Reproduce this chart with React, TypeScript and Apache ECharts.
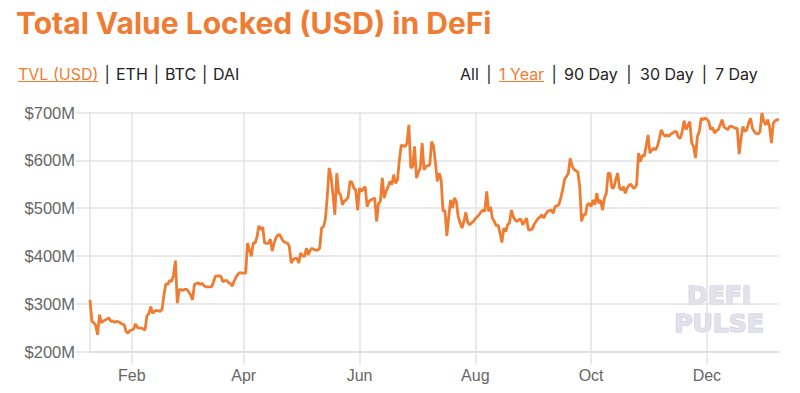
import React, { useEffect, useRef } from "react";
import * as echarts from "echarts";

// Daily TVL in millions of USD, starting 2019-01-10
const startDate = "2019-01-10";
const tvl: number[] = [
  308, 263, 260, 255, 235, 277, 260, 264, 266, 268, 270, 263, 264, 261, 263, 262, 260, 257, 256, 242,
  238, 244, 245, 247, 258, 250, 249, 249, 247, 245, 275, 279, 294, 280, 284, 286, 285, 284, 289, 320,
  342, 340, 349, 346, 360, 390, 301, 330, 329, 328, 330, 330, 325, 318, 308, 340, 342, 344, 340, 343,
  338, 335, 335, 335, 335, 345, 357, 358, 358, 357, 346, 348, 349, 344, 342, 337, 348, 356, 362, 365,
  364, 364, 364, 427, 413, 399, 427, 427, 440, 463, 455, 460, 427, 426, 426, 435, 410, 427, 438, 444,
  444, 436, 430, 428, 427, 420, 385, 392, 395, 395, 385, 406, 400, 399, 416, 402, 412, 416, 413, 412,
  412, 416, 458, 461, 476, 524, 584, 566, 528, 486, 573, 532, 528, 507, 515, 517, 523, 556, 554, 542,
  538, 496, 542, 535, 540, 545, 503, 514, 517, 519, 521, 472, 510, 514, 563, 521, 535, 544, 556, 549,
  570, 552, 559, 601, 632, 630, 629, 636, 674, 584, 587, 629, 563, 575, 584, 636, 580, 587, 589, 590,
  639, 630, 594, 556, 573, 559, 493, 496, 442, 482, 517, 500, 521, 514, 482, 470, 458, 472, 491, 470,
  465, 469, 472, 478, 482, 486, 492, 496, 493, 535, 493, 503, 479, 472, 463, 465, 448, 428, 458, 451,
  465, 469, 496, 482, 475, 472, 476, 477, 465, 472, 479, 454, 455, 456, 466, 472, 478, 481, 486, 479,
  487, 493, 495, 496, 489, 503, 505, 507, 521, 538, 560, 566, 573, 604, 588, 581, 578, 576, 545, 472,
  486, 486, 507, 510, 503, 517, 507, 531, 510, 517, 496, 520, 531, 573, 572, 542, 543, 560, 573, 542,
  538, 545, 531, 542, 548, 550, 543, 542, 549, 615, 597, 611, 608, 630, 653, 615, 622, 625, 622, 630,
  646, 664, 655, 650, 653, 650, 655, 657, 660, 660, 648, 646, 660, 683, 664, 673, 681, 636, 629, 605,
  650, 660, 688, 685, 688, 686, 681, 664, 669, 657, 662, 664, 674, 685, 670, 667, 664, 671, 671, 669,
  667, 667, 613, 646, 671, 660, 664, 678, 688, 667, 660, 656, 655, 660, 699, 681, 674, 685, 671, 636,
  678, 683, 685, 684,
];

const monthNames = ["Jan", "Feb", "Mar", "Apr", "May", "Jun", "Jul", "Aug", "Sep", "Oct", "Nov", "Dec"];
const tickMonths = ["Feb", "Apr", "Jun", "Aug", "Oct", "Dec"];
const yTicks = [200, 300, 400, 500, 600, 700];

const titleText = "Total Value Locked (USD) in DeFi";
const leftLinks = ["TVL (USD)", "ETH", "BTC", "DAI"];
const rightLinks = ["All", "1 Year", "90 Day", "30 Day", "7 Day"];
const watermark = "DEFI\nPULSE";

const ORANGE = "#ee7d33";

function buildDates(): string[] {
  const [y, m, d] = startDate.split("-").map(Number);
  return tvl.map((_, i) => new Date(Date.UTC(y, m - 1, d + i)).toISOString().slice(0, 10));
}

function isTickDate(v: string): boolean {
  const m = Number(v.slice(5, 7));
  return v.slice(8, 10) === "01" && tickMonths.includes(monthNames[m - 1]);
}

function measure(text: string, font: string): number {
  const c = document.createElement("canvas").getContext("2d");
  if (!c) return text.length * 8;
  c.font = font;
  return c.measureText(text).width;
}

export default function App() {
  const ref = useRef<HTMLDivElement>(null);
  useEffect(() => {
    if (!ref.current) return;
    const chart = echarts.init(ref.current, null, { renderer: "svg" });
    const dates = buildDates();

    const linkFont = { fontFamily: "Inter", fontSize: 16, fontWeight: 400 as any };
    const cssFont = "400 16px Inter";
    const leftX = [18, 116, 165, 213];
    const rightX = [460, 499, 564, 640, 715];
    const linkY = 74;

    const graphics: any[] = [
      {
        type: "text",
        left: 16,
        top: 8,
        style: {
          text: titleText,
          fill: ORANGE,
          fontFamily: "Inter",
          fontWeight: 700,
          fontSize: 30,
        },
      },
    ];
    const addRow = (words: string[], xs: number[], active: number) => {
      words.forEach((t, i) => {
        const w = measure(t, cssFont);
        graphics.push({
          type: "text",
          x: xs[i],
          y: linkY,
          style: { text: t, fill: i === active ? ORANGE : "#222", ...linkFont, verticalAlign: "middle" },
        });
        if (i === active) {
          graphics.push({
            type: "line",
            shape: { x1: xs[i], y1: 81.5, x2: xs[i] + w, y2: 81.5 },
            style: { stroke: ORANGE, lineWidth: 1 },
          });
        }
        if (i < words.length - 1) {
          const bx = (xs[i] + w + xs[i + 1]) / 2;
          graphics.push({
            type: "text",
            x: bx,
            y: linkY,
            style: { text: "|", fill: "#222", ...linkFont, align: "center", verticalAlign: "middle" },
          });
        }
      });
    };
    addRow(leftLinks, leftX, 0);
    addRow(rightLinks, rightX, 1);

    graphics.push({
      type: "text",
      x: 719,
      y: 309,
      z: -1,
      style: {
        text: watermark,
        fill: "#e3e2ec",
        stroke: "#cbcad9",
        lineWidth: 1.2,
        fontFamily: "DejaVu Sans",
        fontWeight: 700,
        fontSize: 25,
        lineHeight: 28,
        align: "center",
        verticalAlign: "middle",
      },
    });

    chart.setOption({
      animation: false,
      backgroundColor: "#fff",
      grid: { left: 90, right: 21, top: 112.5, bottom: 41.5, containLabel: false },
      graphic: graphics,
      xAxis: {
        type: "category",
        data: dates,
        boundaryGap: false,
        axisLine: { show: true, lineStyle: { color: "#dedede", width: 1.5 } },
        axisTick: {
          show: true,
          length: 13,
          interval: (_i: number, v: string) => isTickDate(v),
          lineStyle: { color: "#e2e2e2", width: 1.5 },
        },
        axisLabel: {
          interval: (_i: number, v: string) => isTickDate(v),
          formatter: (v: string) => monthNames[Number(v.slice(5, 7)) - 1],
          color: "#666",
          fontFamily: "Liberation Sans",
          fontSize: 16,
          margin: 16,
        },
        splitLine: {
          show: true,
          interval: (_i: number, v: string) => isTickDate(v),
          lineStyle: { color: "#e2e2e2", width: 1.5 },
        },
      },
      yAxis: {
        type: "value",
        min: yTicks[0],
        max: yTicks[yTicks.length - 1],
        interval: 100,
        axisLine: { show: true, lineStyle: { color: "#e2e2e2", width: 1.5 } },
        axisTick: { show: true, length: 14, lineStyle: { color: "#e2e2e2", width: 1.5 } },
        axisLabel: {
          formatter: (v: number) => `$${v}M`,
          color: "#666",
          fontFamily: "Liberation Sans",
          fontSize: 16.5,
          margin: 15,
        },
        splitLine: { show: true, lineStyle: { color: "#e2e2e2", width: 1.5 } },
      },
      series: [
        {
          type: "line",
          data: tvl,
          showSymbol: false,
          symbol: "none",
          lineStyle: { color: ORANGE, width: 2.8 },
          z: 3,
        },
      ],
    });
    return () => chart.dispose();
  }, []);
  return (
    <div
      ref={ref}
      style={{ position: "fixed", left: 0, top: 0, width: 800, height: 393, background: "#fff" }}
    />
  );
}
